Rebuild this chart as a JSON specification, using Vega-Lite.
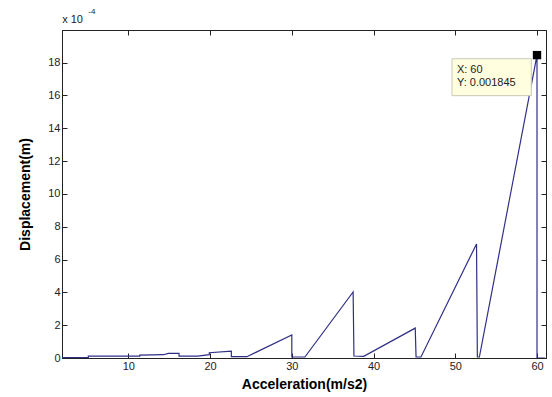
{
  "$schema": "https://vega.github.io/schema/vega-lite/v6.json",
  "width": 484,
  "height": 328,
  "autosize": "none",
  "padding": {"left": 62, "top": 30, "right": 6, "bottom": 39},
  "background": "white",
  "datasets": {
    "curve": [
      {"i": 0, "a": 1.9, "d": 0.03},
      {"i": 1, "a": 5.1, "d": 0.03},
      {"i": 2, "a": 5.1, "d": 0.12},
      {"i": 3, "a": 11.4, "d": 0.12},
      {"i": 4, "a": 11.4, "d": 0.18},
      {"i": 5, "a": 14.3, "d": 0.2},
      {"i": 6, "a": 14.9, "d": 0.28},
      {"i": 7, "a": 16.2, "d": 0.28},
      {"i": 8, "a": 16.2, "d": 0.12},
      {"i": 9, "a": 18.5, "d": 0.12},
      {"i": 10, "a": 19.9, "d": 0.2},
      {"i": 11, "a": 19.9, "d": 0.32},
      {"i": 12, "a": 22.6, "d": 0.42},
      {"i": 13, "a": 22.6, "d": 0.08},
      {"i": 14, "a": 24.5, "d": 0.08},
      {"i": 15, "a": 30.0, "d": 1.4},
      {"i": 16, "a": 30.0, "d": 0.06},
      {"i": 17, "a": 31.6, "d": 0.06},
      {"i": 18, "a": 37.5, "d": 4.02},
      {"i": 19, "a": 37.6, "d": 0.12},
      {"i": 20, "a": 38.8, "d": 0.1},
      {"i": 21, "a": 45.1, "d": 1.82},
      {"i": 22, "a": 45.2, "d": 0.06},
      {"i": 23, "a": 45.8, "d": 0.06},
      {"i": 24, "a": 52.6, "d": 6.95},
      {"i": 25, "a": 52.7, "d": 0.06},
      {"i": 26, "a": 52.95, "d": 0.06},
      {"i": 27, "a": 60.0, "d": 18.45},
      {"i": 28, "a": 60.0, "d": 0.0},
      {"i": 29, "a": 61.0, "d": 0.0}
    ],
    "peak": [{"a": 60, "d": 18.45}],
    "tipbox": [{"x1": 49.6, "x2": 59.3, "y1": 15.98, "y2": 18.23}],
    "tiptext": [
      {"a": 50.2, "d": 17.55, "t": "X: 60"},
      {"a": 50.2, "d": 16.75, "t": "Y: 0.001845"}
    ],
    "expo": [{"a": 1.9, "d": 20.6, "t": "x 10"}],
    "expsup": [{"a": 5.1, "d": 21.1, "t": "-4"}]
  },
  "resolve": {"axis": {"x": "independent", "y": "independent"}},
  "layer": [
    {
      "data": {"name": "curve"},
      "mark": {"type": "line", "color": "#2f2f86", "strokeWidth": 1.2, "clip": true},
      "encoding": {
        "x": {"field": "a", "type": "quantitative",
              "scale": {"domain": [1.88, 61.1], "nice": false, "zero": false},
              "axis": {"orient": "bottom", "values": [10, 20, 30, 40, 50, 60], "title": "Acceleration(m/s2)",
                       "tickSize": -5, "labelPadding": 7, "titlePadding": 6}},
        "y": {"field": "d", "type": "quantitative",
              "scale": {"domain": [0, 19.98], "nice": false},
              "axis": {"orient": "left", "values": [0, 2, 4, 6, 8, 10, 12, 14, 16, 18], "title": "Displacement(m)",
                       "tickSize": -5, "labelPadding": 7, "titlePadding": 15}},
        "order": {"field": "i", "type": "quantitative"}
      }
    },
    {
      "data": {"name": "peak"},
      "mark": {"type": "square", "color": "black", "size": 70, "opacity": 1, "filled": true},
      "encoding": {
        "x": {"field": "a", "type": "quantitative",
              "axis": {"orient": "top", "values": [10, 20, 30, 40, 50, 60], "labels": false, "title": null, "tickSize": -5}},
        "y": {"field": "d", "type": "quantitative",
              "axis": {"orient": "right", "values": [0, 2, 4, 6, 8, 10, 12, 14, 16, 18], "labels": false, "title": null, "tickSize": -5}}
      }
    },
    {
      "data": {"name": "tipbox"},
      "mark": {"type": "rect", "fill": "#ffffe0", "stroke": "#c9c9b8", "strokeWidth": 1},
      "encoding": {
        "x": {"field": "x1", "type": "quantitative", "axis": null},
        "x2": {"field": "x2"},
        "y": {"field": "y1", "type": "quantitative", "axis": null},
        "y2": {"field": "y2"}
      }
    },
    {
      "data": {"name": "tiptext"},
      "mark": {"type": "text", "align": "left", "baseline": "middle", "font": "Liberation Sans", "fontSize": 11, "color": "#222"},
      "encoding": {
        "x": {"field": "a", "type": "quantitative", "axis": null},
        "y": {"field": "d", "type": "quantitative", "axis": null},
        "text": {"field": "t"}
      }
    },
    {
      "data": {"name": "expo"},
      "mark": {"type": "text", "align": "left", "baseline": "middle", "font": "Liberation Sans", "fontSize": 11, "color": "#222", "clip": false},
      "encoding": {
        "x": {"field": "a", "type": "quantitative", "axis": null},
        "y": {"field": "d", "type": "quantitative", "axis": null},
        "text": {"field": "t"}
      }
    },
    {
      "data": {"name": "expsup"},
      "mark": {"type": "text", "align": "left", "baseline": "middle", "font": "Liberation Sans", "fontSize": 8, "color": "#222", "clip": false},
      "encoding": {
        "x": {"field": "a", "type": "quantitative", "axis": null},
        "y": {"field": "d", "type": "quantitative", "axis": null},
        "text": {"field": "t"}
      }
    }
  ],
  "config": {
    "view": {"stroke": "#222", "strokeWidth": 1},
    "axis": {
      "grid": false,
      "domainColor": "#222",
      "tickColor": "#222",
      "labelColor": "#222",
      "labelFont": "Liberation Sans",
      "labelFontSize": 11,
      "titleFont": "Liberation Sans",
      "titleFontSize": 14,
      "titleFontWeight": "bold",
      "titleColor": "#000"
    }
  }
}
